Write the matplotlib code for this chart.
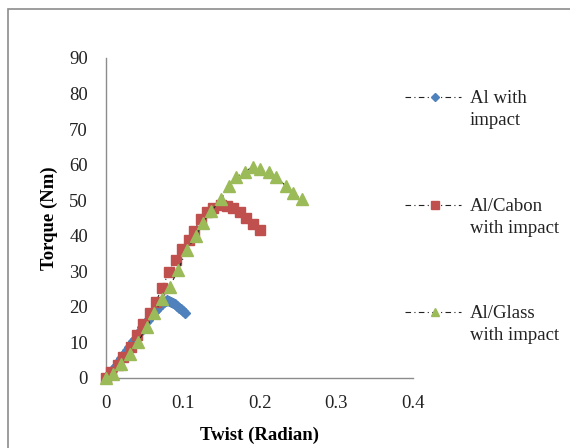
import matplotlib.pyplot as plt
import matplotlib.patches as mpatches
from matplotlib.lines import Line2D

plt.rcParams["font.family"] = ["Liberation Serif", "DejaVu Serif"]

# data
al_twist = [0, 0.0025, 0.005, 0.0075, 0.01, 0.0125, 0.015, 0.0175, 0.02, 0.0225,
            0.025, 0.0275, 0.03, 0.0325, 0.035, 0.0375, 0.04, 0.0425, 0.045, 0.0475,
            0.05, 0.0525, 0.055, 0.0575, 0.06, 0.0625, 0.065, 0.0675, 0.07, 0.0725,
            0.075, 0.0775, 0.08, 0.0825, 0.085, 0.0875, 0.09, 0.0925, 0.095, 0.0975,
            0.1, 0.1025]
al_torque = [0, 0.7, 1.4, 2.1, 2.8, 3.5, 4.2, 4.9, 5.7, 6.4,
             7.1, 7.9, 8.7, 9.5, 10.3, 11.1, 11.9, 12.7, 13.5, 14.3,
             15.0, 15.7, 16.4, 17.1, 17.8, 18.5, 19.2, 19.8, 20.4, 20.9,
             21.3, 21.6, 21.8, 21.7, 21.5, 21.2, 20.8, 20.3, 19.8, 19.3,
             18.8, 18.3]

carbon_twist = [0, 0.007, 0.016, 0.022, 0.032, 0.041, 0.048, 0.057, 0.065, 0.073,
                0.082, 0.091, 0.099, 0.108, 0.114, 0.124, 0.131, 0.140, 0.150, 0.158,
                0.166, 0.174, 0.183, 0.191, 0.200]
carbon_torque = [0, 1.8, 3.7, 5.9, 8.8, 12.1, 15.2, 18.2, 21.5, 25.2,
                 29.9, 33.2, 36.3, 38.8, 41.4, 44.6, 46.8, 47.7, 48.7, 48.4,
                 47.7, 46.8, 44.9, 43.3, 41.6]

glass_twist = [0, 0.009, 0.020, 0.031, 0.042, 0.053, 0.063, 0.073, 0.083, 0.094,
               0.105, 0.117, 0.126, 0.137, 0.150, 0.160, 0.170, 0.181, 0.191, 0.201,
               0.212, 0.222, 0.234, 0.244, 0.255]
glass_torque = [0, 1.1, 3.9, 6.7, 10.2, 14.4, 18.2, 22.1, 25.7, 30.4,
                36.0, 39.9, 43.7, 46.9, 50.2, 54.0, 56.6, 58.0, 59.4, 58.7,
                58.0, 56.6, 54.0, 52.1, 50.2]

labels = ["Al with\nimpact", "Al/Cabon\nwith impact", "Al/Glass\nwith impact"]
colors = ["#4F81BD", "#C0504D", "#9BBB59"]
markers = ["D", "s", "^"]
msizes = [5, 7.5, 8]
dash = (0, (5, 3, 1, 3))
fs = 13.5

fig = plt.figure(figsize=(5.7, 4.48), dpi=100)
ax = fig.add_axes([0.186, 0.1563, 0.5386, 0.7143])

series = [(al_twist, al_torque), (carbon_twist, carbon_torque), (glass_twist, glass_torque)]
for i, (x, y) in enumerate(series):
    ax.plot(x, y, color="#222222", lw=0.8, ls=dash, marker=markers[i],
            ms=msizes[i], mfc=colors[i], mec=colors[i], zorder=2 + i, clip_on=False)

ax.set_xlim(0, 0.4)
ax.set_ylim(0, 90)
ax.set_xticks([0, 0.1, 0.2, 0.3, 0.4])
ax.set_xticklabels(["0", "0.1", "0.2", "0.3", "0.4"])
ax.set_yticks(range(0, 91, 10))
ax.tick_params(length=0, labelsize=fs, colors="#222222")
ax.tick_params(axis="x", pad=12)
ax.tick_params(axis="y", pad=13)
for s in ["top", "right"]:
    ax.spines[s].set_visible(False)
for s in ["left", "bottom"]:
    ax.spines[s].set_color("#8c8c8c")
    ax.spines[s].set_linewidth(1)

ax.set_xlabel("Twist (Radian)", fontsize=fs, fontweight="bold", labelpad=11)
ax.set_ylabel("Torque (Nm)", fontsize=fs, fontweight="bold", labelpad=8)

# legend drawn by hand to match the loose spacing
W, H = 570, 448
leg_y = [97, 205, 312]
for i in range(3):
    yf = 1 - leg_y[i] / H
    fig.add_artist(Line2D([405 / W, 461 / W], [yf, yf], color="#222222", lw=0.8, ls=dash,
                          transform=fig.transFigure))
    fig.add_artist(Line2D([435 / W], [yf], marker=markers[i], ms=msizes[i] * 0.8,
                          mfc=colors[i], mec=colors[i], ls="none", transform=fig.transFigure))
    fig.text(470 / W, 1 - (leg_y[i] - 7) / H, labels[i], fontsize=fs, va="top",
             ha="left", linespacing=1.4, color="#222222")

# outer chart frame
fig.add_artist(mpatches.Rectangle((8 / W, -0.1), 1.2, 1.1 - 9 / H, transform=fig.transFigure,
                                  fill=False, ec="#8c8c8c", lw=1.2))

plt.savefig("out.png", dpi=100)
plt.close()
